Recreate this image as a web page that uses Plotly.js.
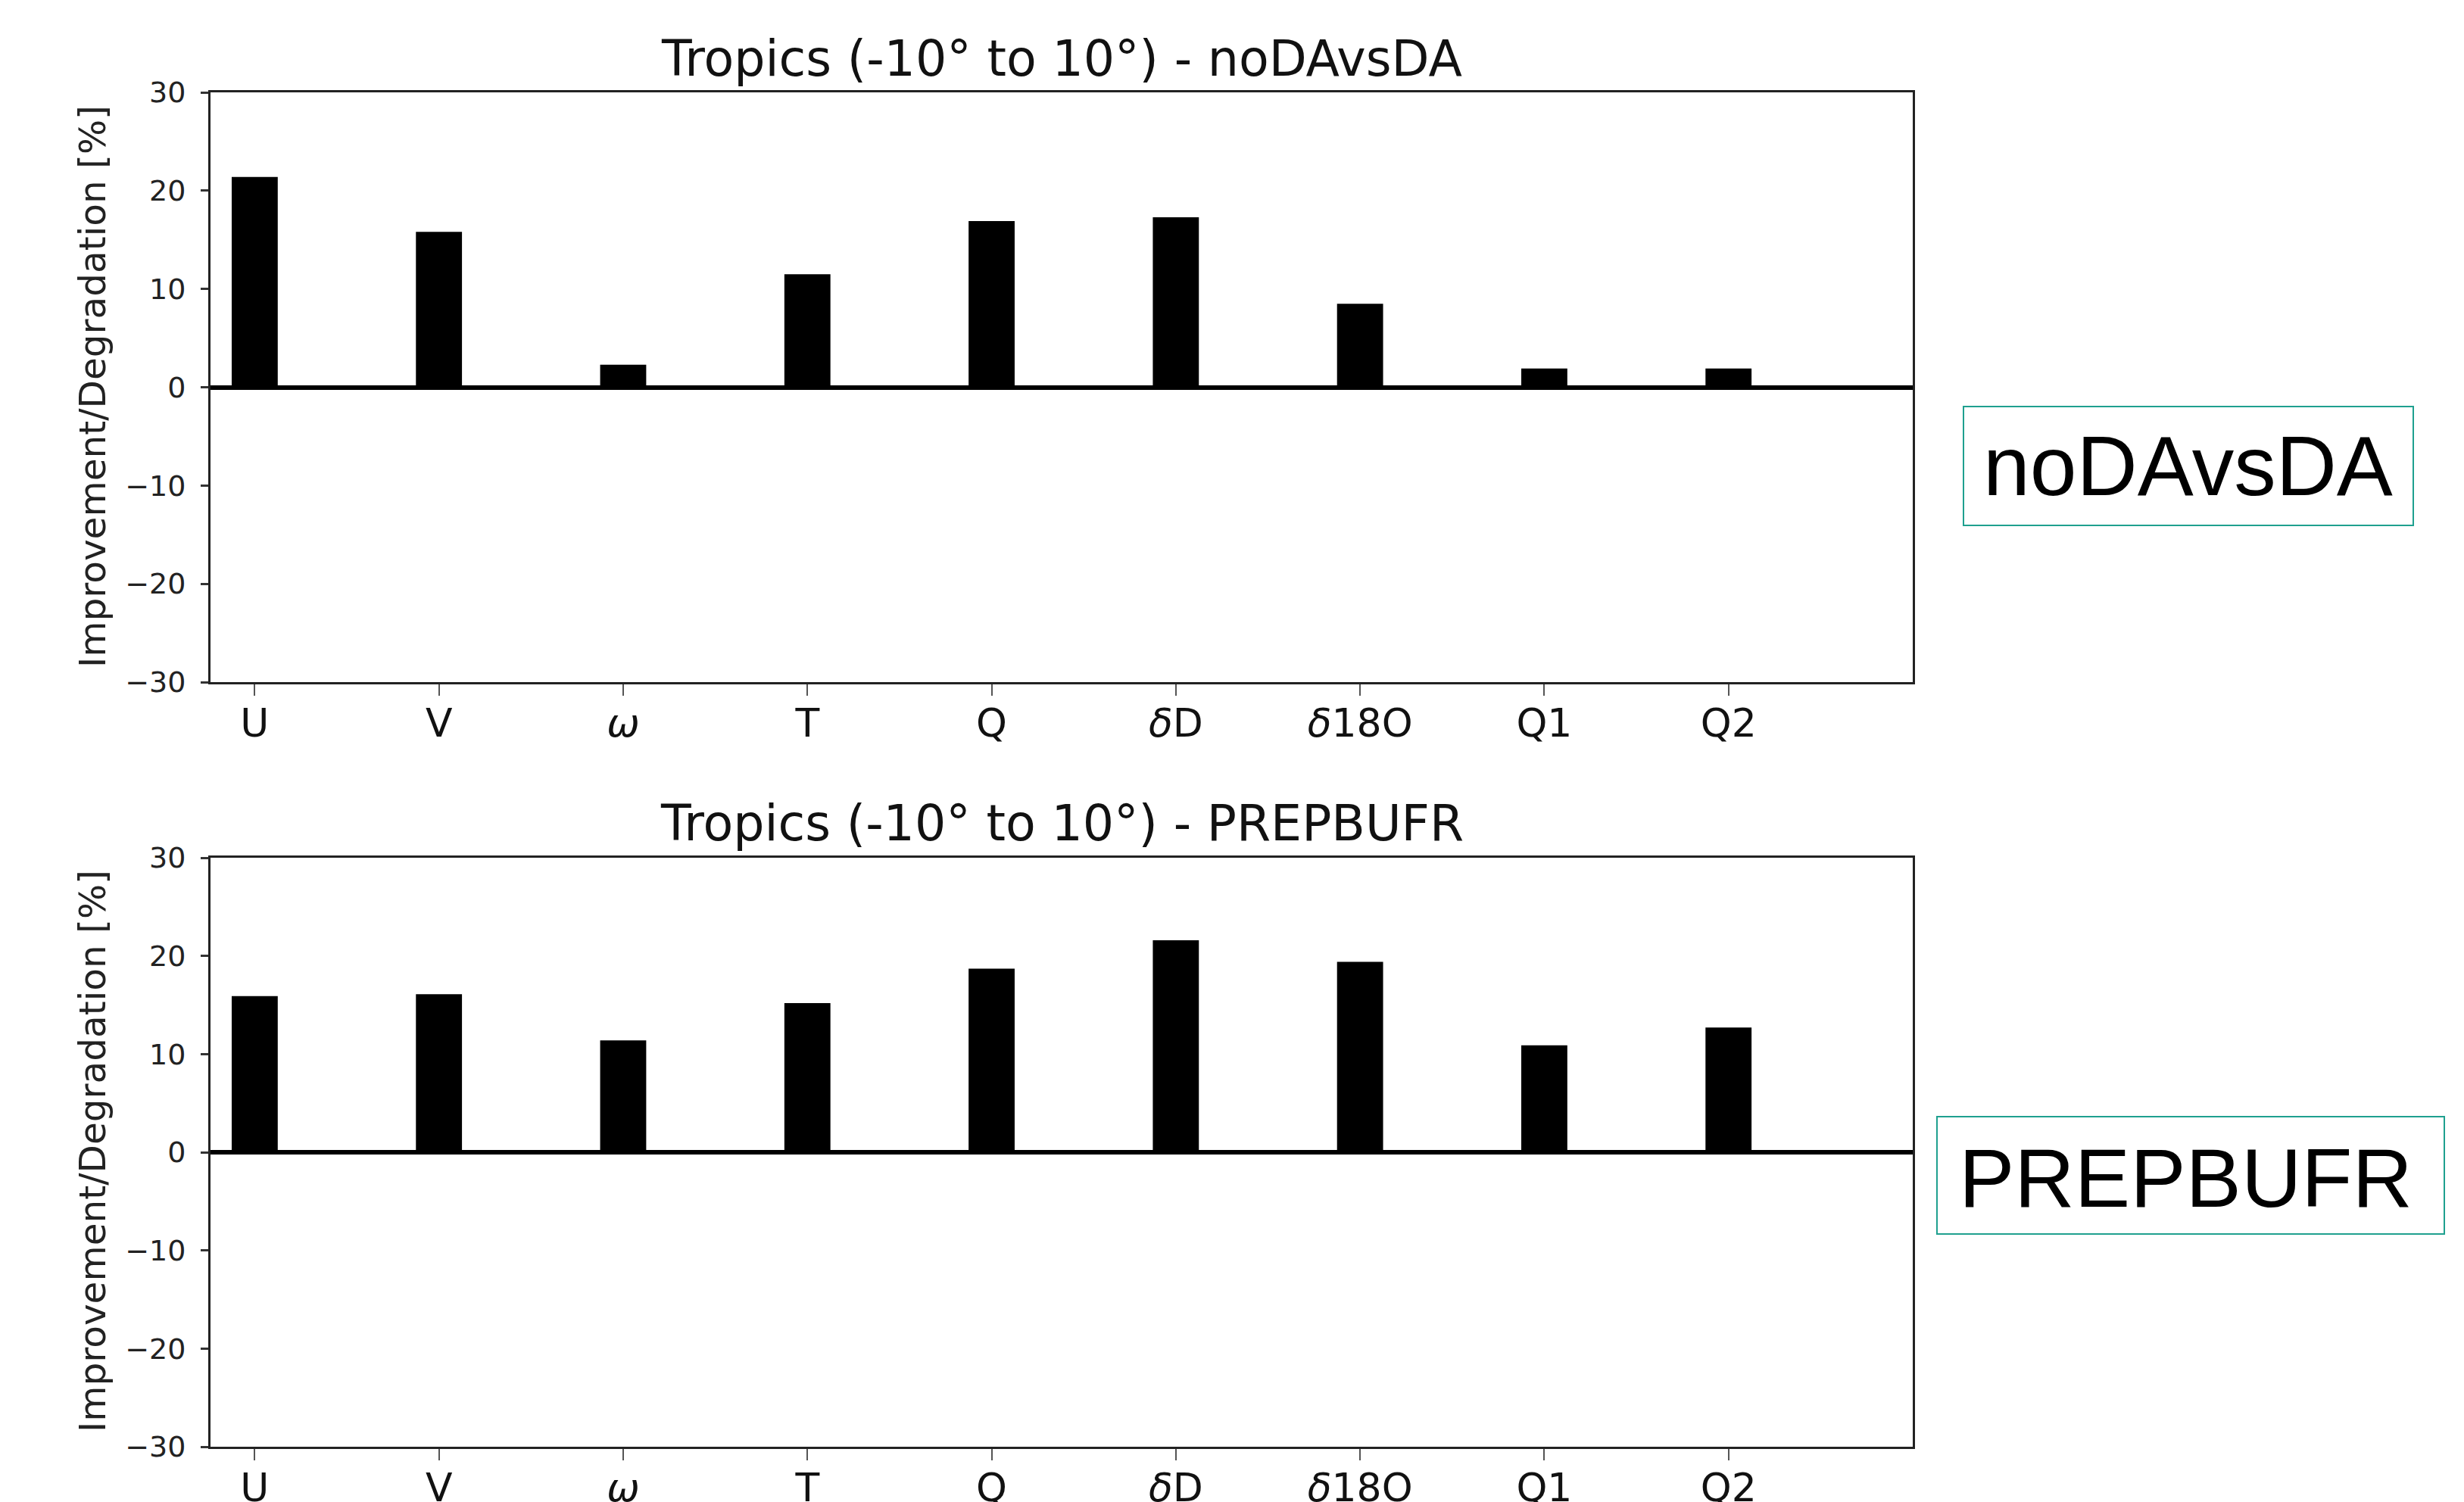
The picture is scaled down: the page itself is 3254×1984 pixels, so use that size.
<!DOCTYPE html>
<html>
<head>
<meta charset="utf-8">
<script src="https://cdn.plot.ly/plotly-3.0.1.min.js"></script>
<style>html,body{margin:0;padding:0;background:#fff;}#chart{width:3254px;height:1984px;}</style>
</head>
<body>
<div id="chart"></div>
<script>
// ---- data ----
const categories = ['U', 'V', '<i>ω</i>', 'T', 'Q', '<i>δ</i>D', '<i>δ</i>18O', 'Q1', 'Q2'];
const noDAvsDA  = [21.4, 15.8, 2.3, 11.5, 16.9, 17.3, 8.5, 1.9, 1.9];
const prepbufr  = [15.9, 16.1, 11.4, 15.2, 18.7, 21.6, 19.4, 10.9, 12.7];
const yTicks    = [-30, -20, -10, 0, 10, 20, 30];
const titles    = ['Tropics (-10° to 10°) - noDAvsDA', 'Tropics (-10° to 10°) - PREPBUFR'];
const boxLabels = ['noDAvsDA', 'PREPBUFR'];
const yTitle    = 'Improvement/Degradation [%]';

// ---- layout helpers (pixel -> paper) ----
const W = 3254, H = 1984;
const px = v => v / W;
const py = v => 1 - v / H;
const xIdx = categories.map((_, i) => i);

const DV = 'DejaVu Sans, sans-serif';

function barTrace(vals, xa, ya) {
  return {
    type: 'bar', x: xIdx, y: vals, xaxis: xa, yaxis: ya,
    width: 0.25, marker: {color: '#000', line: {width: 0}},
    hoverinfo: 'x+y', showlegend: false
  };
}

function xAxis(domainX, anchor) {
  return {
    domain: domainX, anchor: anchor, range: [-0.24, 9.0],
    tickmode: 'array', tickvals: xIdx, ticktext: categories,
    ticks: 'outside', ticklen: 15, tickwidth: 2, tickcolor: '#555',
    tickfont: {family: DV, size: 52, color: '#111'},
    ticklabelstandoff: -8,
    showgrid: false, zeroline: false,
    showline: true, mirror: true, linecolor: '#222', linewidth: 3
  };
}
function yAxis(domainY, anchor) {
  return {
    domain: domainY, anchor: anchor, range: [-30, 30],
    tickmode: 'array', tickvals: yTicks,
    ticks: 'outside', ticklen: 10, tickwidth: 3, tickcolor: '#333',
    tickfont: {family: DV, size: 38, color: '#222'},
    ticklabelstandoff: 12,
    showgrid: false, zeroline: true, zerolinecolor: '#000', zerolinewidth: 6,
    showline: true, mirror: true, linecolor: '#222', linewidth: 3
  };
}

const xDom = [px(278), px(2526)];
const topY = [py(901), py(122)];
const botY = [py(1911), py(1133)];

const annotations = [
  {text: titles[0], x: px(1402), y: py(78), xref: 'paper', yref: 'paper', xanchor: 'center', yanchor: 'middle', showarrow: false, font: {family: DV, size: 65, color: '#111'}},
  {text: titles[1], x: px(1402), y: py(1087), xref: 'paper', yref: 'paper', xanchor: 'center', yanchor: 'middle', showarrow: false, font: {family: DV, size: 65, color: '#111'}},
  {text: yTitle, x: px(122), y: py(511), xref: 'paper', yref: 'paper', xanchor: 'center', yanchor: 'middle', textangle: -90, showarrow: false, font: {family: DV, size: 48.5, color: '#222'}},
  {text: yTitle, x: px(122), y: py(1521), xref: 'paper', yref: 'paper', xanchor: 'center', yanchor: 'middle', textangle: -90, showarrow: false, font: {family: DV, size: 48.5, color: '#222'}},
  {text: boxLabels[0], x: px(2889), y: py(616), xref: 'paper', yref: 'paper', xanchor: 'center', yanchor: 'middle', showarrow: false, font: {family: 'Liberation Sans, Arial, sans-serif', size: 111, color: '#000'}},
  {text: boxLabels[1], x: px(2886), y: py(1555), xref: 'paper', yref: 'paper', xanchor: 'center', yanchor: 'middle', showarrow: false, font: {family: 'Liberation Sans, Arial, sans-serif', size: 110, color: '#000'}}
];

const shapes = [
  {type: 'rect', xref: 'paper', yref: 'paper', x0: px(2593), x1: px(3187), y0: py(694), y1: py(537), line: {color: '#1fa08f', width: 2}, fillcolor: 'rgba(0,0,0,0)'},
  {type: 'rect', xref: 'paper', yref: 'paper', x0: px(2558), x1: px(3228), y0: py(1630), y1: py(1475), line: {color: '#1fa08f', width: 2}, fillcolor: 'rgba(0,0,0,0)'}
];

const layout = {
  width: W, height: H,
  margin: {l: 0, r: 0, t: 0, b: 0, pad: 0},
  paper_bgcolor: '#fff', plot_bgcolor: '#fff',
  showlegend: false,
  xaxis: xAxis(xDom, 'y'),
  yaxis: yAxis(topY, 'x'),
  xaxis2: xAxis(xDom, 'y2'),
  yaxis2: yAxis(botY, 'x2'),
  annotations: annotations,
  shapes: shapes
};

Plotly.newPlot('chart', [barTrace(noDAvsDA, 'x', 'y'), barTrace(prepbufr, 'x2', 'y2')], layout, {displayModeBar: false, staticPlot: true});
</script>
</body>
</html>
